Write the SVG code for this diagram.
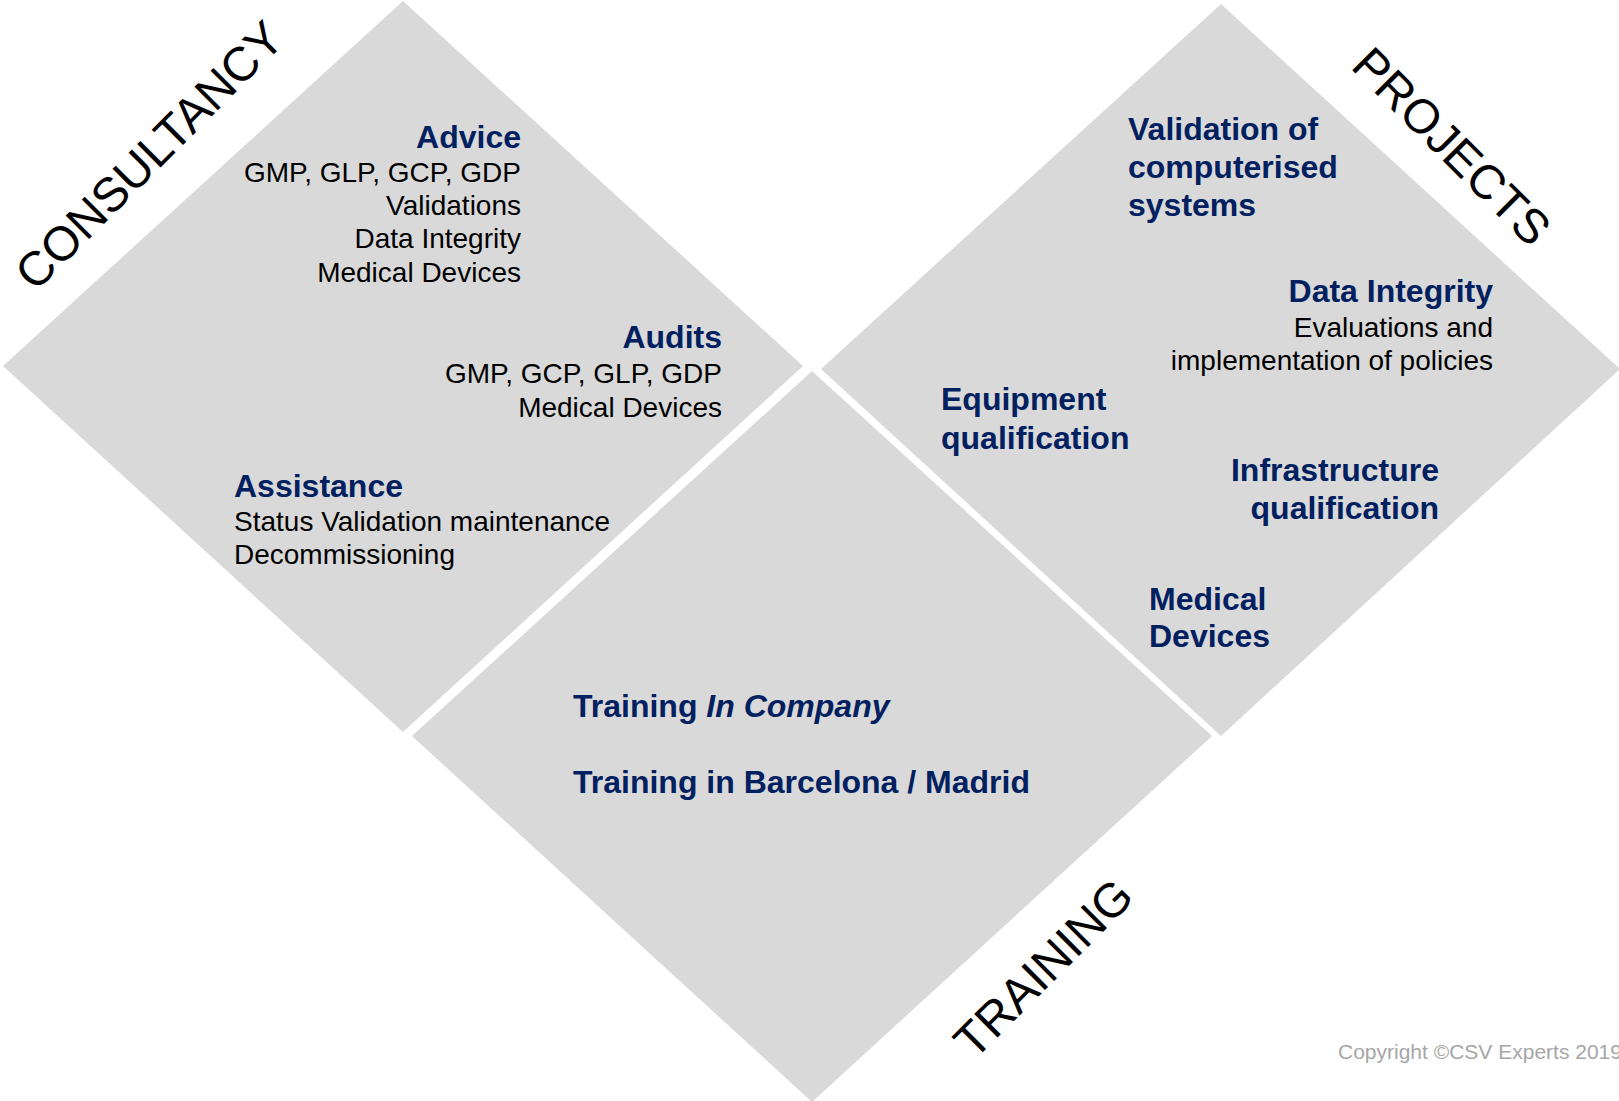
<svg xmlns="http://www.w3.org/2000/svg" width="1619" height="1101" viewBox="0 0 1619 1101">
<style>
.tile{fill:#D9D9D9;}
.h{font-family:"Liberation Sans",Arial,sans-serif;font-weight:bold;font-size:32px;fill:#002060;}
.b{font-family:"Liberation Sans",Arial,sans-serif;font-size:28px;fill:#000;}
.lbl{font-family:"Liberation Sans",Arial,sans-serif;font-size:48px;fill:#000;text-anchor:middle;}
.r{text-anchor:end;}
.copy{font-family:"Liberation Sans",Arial,sans-serif;font-size:21px;fill:#A6A6A6;}
</style>
<rect width="1619" height="1101" fill="#fff"/>
<g id="connectors"></g>
<g id="consultancy">
<polygon class="tile" points="403,1 803,366 403,732 3,366"/>
<text class="lbl" transform="translate(161,167) rotate(-45)">CONSULTANCY</text>
<text class="h r" x="521" y="148">Advice</text>
<text class="b r" x="521" y="182">GMP, GLP, GCP, GDP</text>
<text class="b r" x="521" y="215">Validations</text>
<text class="b r" x="521" y="248">Data Integrity</text>
<text class="b r" x="521" y="282">Medical Devices</text>
<text class="h r" x="722" y="348">Audits</text>
<text class="b r" x="722" y="383">GMP, GCP, GLP, GDP</text>
<text class="b r" x="722" y="417">Medical Devices</text>
<text class="h" x="234" y="497">Assistance</text>
<text class="b" x="234" y="531">Status Validation maintenance</text>
<text class="b" x="234" y="564">Decommissioning</text>
</g>
<g id="projects">
<polygon class="tile" points="1221,4 1620,369 1221,736 821,369"/>
<text class="lbl" transform="translate(1440,158) rotate(45)">PROJECTS</text>
<text class="h" x="1128" y="140">Validation of</text>
<text class="h" x="1128" y="178">computerised</text>
<text class="h" x="1128" y="216">systems</text>
<text class="h r" x="1493" y="302">Data Integrity</text>
<text class="b r" x="1493" y="337">Evaluations and</text>
<text class="b r" x="1493" y="370">implementation of policies</text>
<text class="h" x="941" y="410">Equipment</text>
<text class="h" x="941" y="449">qualification</text>
<text class="h r" x="1439" y="481">Infrastructure</text>
<text class="h r" x="1439" y="519">qualification</text>
<text class="h" x="1149" y="610">Medical</text>
<text class="h" x="1149" y="647">Devices</text>
</g>
<g id="training">
<polygon class="tile" points="812,371 1212,736 812,1102 412,736"/>
<text class="lbl" transform="translate(1055,980) rotate(-45)">TRAINING</text>
<text class="h" x="573" y="717">Training <tspan font-style="italic">In Company</tspan></text>
<text class="h" x="573" y="793">Training in Barcelona / Madrid</text>
</g>
<text class="copy" x="1338" y="1059">Copyright ©CSV Experts 2019</text>
</svg>
